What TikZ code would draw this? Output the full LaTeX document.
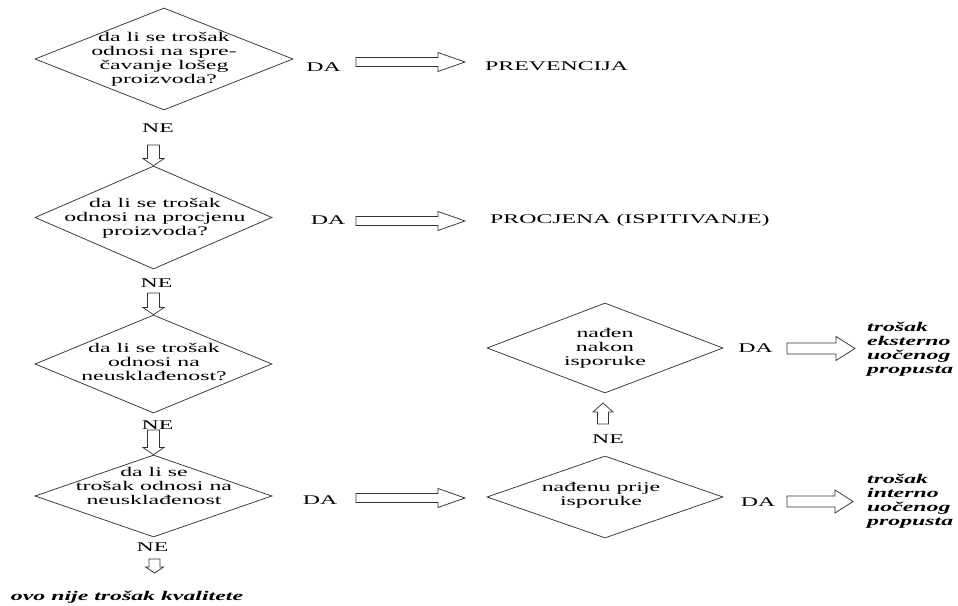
\documentclass[tikz,border=0pt]{standalone}
\usepackage{fontspec}
\setmainfont{Liberation Serif}[FakeStretch=1.79]
\usetikzlibrary{shapes.geometric,calc}
\tikzset{
  dia/.style n args={2}{diamond, draw=black!80, line width=0.75pt, inner sep=0pt,
    minimum width=#1, minimum height=#2},
  txt/.style={inner sep=0pt, align=center, font=\fontsize{13.3}{14}\selectfont},
  lbl/.style={inner sep=0pt, font=\fontsize{13.3}{14}\selectfont},
  res/.style={inner sep=0pt, align=left, font=\fontsize{13.3}{14}\selectfont\bfseries\itshape},
  blk/.style={draw=black!80, line width=0.75pt, fill=white, line join=miter}
}
% horizontal block arrow: start, tip, head length, head half height, shaft half height
\newcommand\hblk[5]{\draw[blk] let \p1=(#1),\p2=(#2) in
  (\x1,\y1+#5) -- (\x2-#3,\y1+#5) -- (\x2-#3,\y1+#4) -- (\x2,\y1)
  -- (\x2-#3,\y1-#4) -- (\x2-#3,\y1-#5) -- (\x1,\y1-#5) -- cycle;}
% downward block arrow
\newcommand\dblk[5]{\draw[blk] let \p1=(#1),\p2=(#2) in
  (\x1-#5,\y1) -- (\x1-#5,\y2+#3) -- (\x1-#4,\y2+#3) -- (\x1,\y2)
  -- (\x1+#4,\y2+#3) -- (\x1+#5,\y2+#3) -- (\x1+#5,\y1) -- cycle;}
% upward block arrow
\newcommand\ublk[5]{\draw[blk] let \p1=(#1),\p2=(#2) in
  (\x1-#5,\y1) -- (\x1-#5,\y2-#3) -- (\x1-#4,\y2-#3) -- (\x1,\y2)
  -- (\x1+#4,\y2-#3) -- (\x1+#5,\y2-#3) -- (\x1+#5,\y1) -- cycle;}
\begin{document}
\begin{tikzpicture}[x=1pt,y=1pt]
\useasboundingbox (0,0) rectangle (958,605);

% left column diamonds
\node[dia={258}{102}] (d1) at (164,546) {};
\node[txt] (t1) at (164,545.5) {da li se trošak\\odnosi na spre-\\čavanje lošeg\\proizvoda?};
\node[dia={237}{103}] (d2) at (153.5,387.5) {};
\node[txt] (t2) at (155,386.5) {da li se trošak\\odnosi na procjenu\\proizvoda?};
\node[dia={237}{98}] (d3) at (153.5,241) {};
\node[txt] (t3) at (154,243.5) {da li se trošak\\odnosi na\ \\neusklađenost?};
\node[dia={237}{82}] (d4) at (153.5,109) {};
\node[txt] (t4) at (154,119) {da li se\\trošak odnosi na\\neusklađenost};

% right column diamonds
\node[dia={236}{90}] (d5) at (605,257) {};
\node[txt] (t5) at (605,257) {nađen\\nakon\\isporuke};
\node[dia={236}{82}] (d6) at (605,108) {};
\node[txt] (t6) at (601,110) {nađenu prije\\isporuke};

% DA / NE labels
\node[lbl] (da1) at (323.5,538) {DA};
\node[lbl] (da2) at (328,385) {DA};
\node[lbl] (da4) at (320,105) {DA};
\node[lbl] (da5) at (755.5,257) {DA};
\node[lbl] (da6) at (758,103) {DA};
\node[lbl] (ne1) at (158,477) {NE};
\node[lbl] (ne2) at (156.5,322) {NE};
\node[lbl] (ne3) at (157.5,180) {NE};
\node[lbl] (ne4) at (152.5,58) {NE};
\node[lbl] (ne5) at (608,166) {NE};

% outcomes
\node[lbl, anchor=west] (prev) at (485,539) {PREVENCIJA};
\node[lbl, anchor=west] (proc) at (490,385) {PROCJENA (ISPITIVANJE)};
\node[res, anchor=west] (ext) at (867,256) {trošak\\eksterno\\uočenog\\propusta};
\node[res, anchor=west] (int) at (867,104) {trošak\\interno\\uočenog\\propusta};
\node[res] (nije) at (127,8) {ovo nije trošak kvalitete};

% arrow end points
\coordinate (h1s) at (356,543);   \coordinate (h1e) at (465,543);
\coordinate (h2s) at (356,384);   \coordinate (h2e) at (465,384);
\coordinate (h4s) at (356,107);   \coordinate (h4e) at (465,107);
\coordinate (h5s) at (787,256.5); \coordinate (h5e) at (855,256.5);
\coordinate (h6s) at (787,103.5); \coordinate (h6e) at (853,103.5);
\coordinate (v1s) at (153.5,460);
\coordinate (v2s) at (153.5,312);
\coordinate (v3s) at (153.5,175);
\coordinate (v4s) at (154.5,46);  \coordinate (v4e) at (154.5,32);
\coordinate (u5s) at (603,181);   \coordinate (u5e) at (603,202);

% horizontal block arrows
\hblk{h1s}{h1e}{27pt}{9.5pt}{4.5pt}
\hblk{h2s}{h2e}{27pt}{9.5pt}{4.5pt}
\hblk{h4s}{h4e}{27pt}{9.5pt}{4.5pt}
\hblk{h5s}{h5e}{19pt}{12pt}{5.5pt}
\hblk{h6s}{h6e}{18pt}{11.5pt}{5.5pt}

% vertical block arrows
\dblk{v1s}{d2.north}{7pt}{10.5pt}{6pt}
\dblk{v2s}{d3.north}{7pt}{10.5pt}{6pt}
\dblk{v3s}{d4.north}{7pt}{10.5pt}{6pt}
\dblk{v4s}{v4e}{6pt}{9pt}{5.5pt}
\ublk{u5s}{u5e}{9pt}{10pt}{5.5pt}
\end{tikzpicture}
\end{document}
